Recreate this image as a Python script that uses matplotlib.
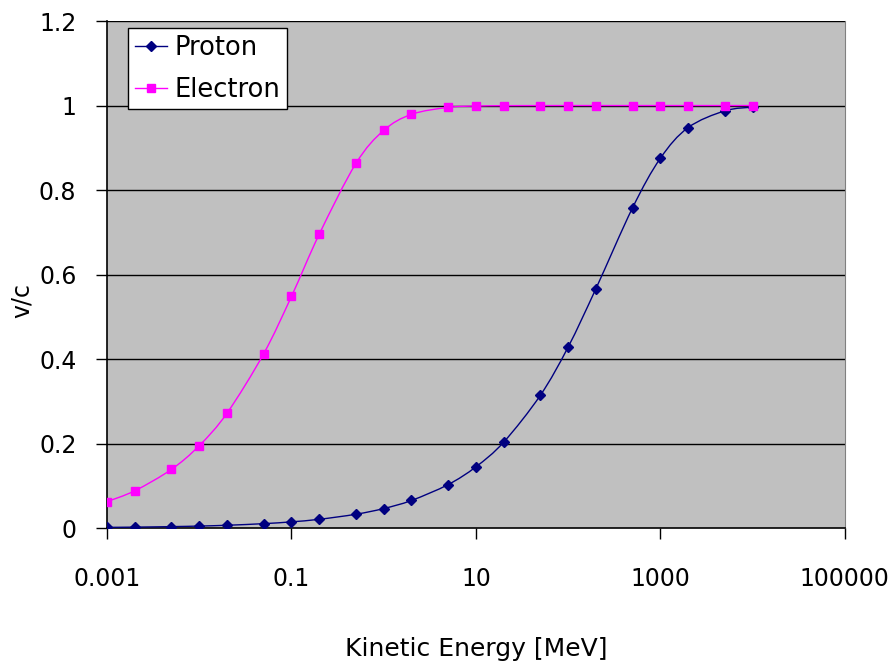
import matplotlib
matplotlib.use("Agg")
import matplotlib.pyplot as plt
import numpy as np
from matplotlib.path import Path
from matplotlib.patches import PathPatch
from matplotlib.lines import Line2D
from matplotlib.ticker import FixedLocator, NullLocator

plt.rcParams['font.family'] = ['DejaVu Sans']

# kinetic energy [MeV], 1-2-5 steps per decade
energy = [0.001, 0.002, 0.005, 0.01, 0.02, 0.05, 0.1, 0.2, 0.5,
          1, 2, 5, 10, 20, 50, 100, 200, 500, 1000, 2000, 5000, 10000]
proton = [0.0015, 0.0021, 0.0033, 0.0046, 0.0065, 0.0103, 0.0146, 0.0206,
          0.0326, 0.0461, 0.0652, 0.1028, 0.1448, 0.2032, 0.3141, 0.4282,
          0.5662, 0.7579, 0.8750, 0.9477, 0.9874, 0.9963]
electron = [0.0625, 0.0882, 0.1389, 0.1950, 0.2719, 0.4127, 0.5482, 0.6953,
            0.8629, 0.9411, 0.9791, 0.9957, 0.9988, 0.9997, 0.9999, 1.0,
            1.0, 1.0, 1.0, 1.0, 1.0, 1.0]
x_ticks = [0.001, 0.1, 10, 1000, 100000]
x_ticklabels = ["0.001", "0.1", "10", "1000", "100000"]
y_ticks = [0, 0.2, 0.4, 0.6, 0.8, 1.0, 1.2]
y_ticklabels = ["0", "0.2", "0.4", "0.6", "0.8", "1", "1.2"]


def smooth_path(x, y):
    # excel-style smoothed line: cubic bezier segments (catmull-rom
    # control points), built in log-x space since the x axis is log
    lx = np.log10(x)
    y = np.asarray(y, dtype=float)
    n = len(lx)
    verts = [(x[0], y[0])]
    codes = [Path.MOVETO]
    for i in range(n - 1):
        i0 = max(i - 1, 0)
        i3 = min(i + 2, n - 1)
        c1x = lx[i] + (lx[i + 1] - lx[i0]) / 6
        c1y = y[i] + (y[i + 1] - y[i0]) / 6
        c2x = lx[i + 1] - (lx[i3] - lx[i]) / 6
        c2y = y[i + 1] - (y[i3] - y[i]) / 6
        verts += [(10 ** c1x, c1y), (10 ** c2x, c2y), (x[i + 1], y[i + 1])]
        codes += [Path.CURVE4] * 3
    return Path(verts, codes)


fig = plt.figure(figsize=(8.92, 6.62), dpi=100)
ax = fig.add_axes([0.12, 0.2024, 0.827, 0.7658])
ax.set_facecolor("#C0C0C0")

for xs, ys, col, mk, ms, z in [(energy, proton, "#000080", "D", 5.5, 3),
                               (energy, electron, "#FF00FF", "s", 5.5, 4)]:
    ax.add_patch(PathPatch(smooth_path(xs, ys), fill=False, edgecolor=col,
                           lw=1.0, zorder=z))
    ax.plot(xs, ys, ls="none", color=col, marker=mk, ms=ms, zorder=z)

ax.set_xscale("log")
ax.set_xlim(0.001, 100000)
ax.set_ylim(0, 1.2)
ax.xaxis.set_major_locator(FixedLocator(x_ticks))
ax.xaxis.set_minor_locator(NullLocator())
ax.set_xticklabels(x_ticklabels)
ax.set_yticks(y_ticks)
ax.set_yticklabels(y_ticklabels)
ax.tick_params(axis="x", direction="out", length=8, width=1, pad=20,
               labelsize=17, colors="black")
ax.tick_params(axis="y", direction="out", length=8, width=1, pad=14,
               labelsize=17)

for y in y_ticks[1:]:
    ax.axhline(y, color="black", lw=1.0, zorder=1)

ax.spines["top"].set_visible(False)
ax.spines["right"].set_color("#808080")
ax.spines["left"].set_linewidth(1.2)
ax.spines["bottom"].set_linewidth(1.2)

handles = [Line2D([], [], color="#000080", lw=1.0, marker="D", ms=5.5),
           Line2D([], [], color="#FF00FF", lw=1.0, marker="s", ms=5.5)]
leg = ax.legend(handles, ["Proton", "Electron"], loc="upper left",
                bbox_to_anchor=(0.029, 0.986), fontsize=18.5, frameon=True,
                fancybox=False, borderpad=0.25, handlelength=1.25,
                handletextpad=0.3, labelspacing=0.62, borderaxespad=0)
leg.get_frame().set_edgecolor("black")
leg.get_frame().set_linewidth(1.0)
leg.get_frame().set_facecolor("white")
leg.get_frame().set_alpha(1.0)

fig.text(476 / 892, 1 - 649 / 662, "Kinetic Energy [MeV]", ha="center",
         va="center", fontsize=18)
fig.text(22 / 892, 1 - 300 / 662, "v/c", ha="center", va="center",
         rotation=90, fontsize=17)

fig.savefig("out.png", dpi=100)
